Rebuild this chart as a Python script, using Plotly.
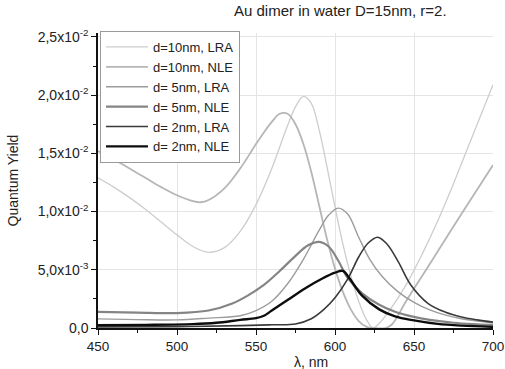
import plotly.graph_objects as go

# ---- data ----
x_10_lra = [450, 460, 470, 480, 490, 500, 510, 520, 530, 540, 550, 560, 570, 575, 580, 585, 590, 595,
            600, 605, 610, 615, 620, 624, 628, 635, 645, 655, 665, 675, 685, 700]
y_10_lra = [1.29e-2, 1.21e-2, 1.12e-2, 1.02e-2, 9.1e-3, 8.0e-3, 7.0e-3, 6.5e-3, 6.9e-3, 8.3e-3, 1.06e-2,
            1.37e-2, 1.74e-2, 1.90e-2, 1.99e-2, 1.93e-2, 1.70e-2, 1.38e-2,
            1.04e-2, 7.2e-3, 4.5e-3, 2.3e-3, 7.0e-4, 0.0, 4.0e-4, 1.6e-3, 3.7e-3, 6.3e-3, 9.2e-3, 1.24e-2,
            1.58e-2, 2.09e-2]

x_10_nle = [450, 460, 470, 480, 490, 500, 510, 515, 520, 530, 540, 550, 555, 560, 565, 570, 575, 580,
            585, 590, 595, 600, 605, 610, 615, 620, 625, 632, 636, 645, 660, 680, 700]
y_10_nle = [1.52e-2, 1.45e-2, 1.37e-2, 1.29e-2, 1.21e-2, 1.14e-2, 1.09e-2, 1.08e-2, 1.10e-2, 1.20e-2,
            1.37e-2, 1.58e-2, 1.68e-2, 1.77e-2, 1.84e-2, 1.84e-2, 1.75e-2, 1.58e-2,
            1.34e-2, 1.05e-2, 7.6e-3, 5.1e-3, 3.1e-3, 1.6e-3, 6.0e-4, 1.0e-4, 0.0, 0.0, 3.0e-4, 2.3e-3,
            5.5e-3, 9.8e-3, 1.40e-2]

x_5_lra = [450, 475, 500, 520, 540, 550, 560, 570, 580, 590, 596, 602, 608, 615, 622, 630, 640, 650,
           660, 670, 680, 690, 700]
y_5_lra = [7.8e-4, 7.2e-4, 7.0e-4, 8.5e-4, 1.05e-3, 1.5e-3, 2.3e-3, 3.8e-3, 5.9e-3, 8.4e-3, 9.7e-3, 1.03e-2,
           9.8e-3, 7.8e-3, 5.9e-3, 4.4e-3, 3.1e-3, 2.2e-3, 1.55e-3, 1.1e-3, 8.0e-4, 6.0e-4, 4.5e-4]

x_5_nle = [450, 475, 500, 520, 535, 545, 555, 565, 575, 583, 590, 596, 602, 608, 617, 628, 638, 650,
           660, 675, 690, 700]
y_5_nle = [1.38e-3, 1.32e-3, 1.28e-3, 1.5e-3, 2.1e-3, 2.8e-3, 3.7e-3, 4.9e-3, 6.2e-3, 7.1e-3, 7.4e-3,
           7.0e-3, 5.8e-3, 4.3e-3, 3.0e-3, 2.0e-3, 1.4e-3, 9.5e-4, 7.0e-4, 4.5e-4, 3.2e-4, 2.6e-4]

x_2_lra = [450, 500, 540, 560, 575, 585, 593, 600, 608, 615, 621, 627, 633, 640, 648, 659, 670, 680, 690, 700]
y_2_lra = [1.0e-4, 1.2e-4, 2.0e-4, 2.8e-4, 3.5e-4, 8.0e-4, 1.6e-3, 2.6e-3, 4.2e-3, 6.1e-3, 7.3e-3, 7.8e-3,
           7.2e-3, 5.7e-3, 3.7e-3, 2.1e-3, 1.35e-3, 9.5e-4, 7.0e-4, 5.0e-4]

x_2_nle = [450, 480, 510, 525, 540, 550, 555, 560, 570, 581, 592, 600, 605, 609, 617, 628, 638, 650,
           665, 680, 700]
y_2_nle = [2.5e-4, 2.7e-4, 3.3e-4, 4.5e-4, 7.0e-4, 8.5e-4, 1.05e-3, 1.5e-3, 2.4e-3, 3.4e-3, 4.25e-3,
           4.75e-3, 4.9e-3, 4.3e-3, 2.8e-3, 1.6e-3, 1.0e-3, 6.5e-4, 3.5e-4, 2.0e-4, 1.0e-4]

series = [
    ("d=10nm, LRA", x_10_lra, y_10_lra, "#cdcdcd", 1.3),
    ("d=10nm, NLE", x_10_nle, y_10_nle, "#b6b6b6", 1.8),
    ("d= 5nm, LRA", x_5_lra, y_5_lra, "#9c9c9c", 1.4),
    ("d= 5nm, NLE", x_5_nle, y_5_nle, "#858585", 2.2),
    ("d= 2nm, LRA", x_2_lra, y_2_lra, "#3a3a3a", 1.6),
    ("d= 2nm, NLE", x_2_nle, y_2_nle, "#0d0d0d", 2.4),
]

x_ticks = [450, 500, 550, 600, 650, 700]
y_ticks = [0, 0.005, 0.010, 0.015, 0.020, 0.025]
y_tick_text = ["0,0", "5,0x10<sup>-3</sup>", "1,0x10<sup>-2</sup>", "1,5x10<sup>-2</sup>",
               "2,0x10<sup>-2</sup>", "2,5x10<sup>-2</sup>"]

FONT = "Liberation Sans, Arial, sans-serif"

fig = go.Figure()
for name, xs, ys, col, w in series:
    fig.add_trace(go.Scatter(x=xs, y=ys, mode="lines", name=name,
                             line=dict(color=col, width=w, shape="spline", smoothing=1.0)))

fig.update_layout(
    width=505, height=369,
    margin=dict(l=98, r=12, t=33, b=41),
    paper_bgcolor="white", plot_bgcolor="white",
    font=dict(family=FONT, size=14, color="#222222"),
    showlegend=True,
    legend=dict(x=0.005, y=1.007, xanchor="left", yanchor="top",
                bgcolor="white", bordercolor="#9a9a9a", borderwidth=1, itemwidth=42,
                font=dict(size=13, color="#222222"), tracegroupgap=0),
    annotations=[
        dict(text="Au dimer in water D=15nm, r=2.", xref="paper", yref="paper",
             x=0.615, y=1.0, xanchor="center", yanchor="middle", yshift=23,
             showarrow=False, font=dict(size=15)),
        dict(text="λ, nm", xref="paper", yref="paper", x=0.54, y=0,
             xanchor="center", yanchor="middle", yshift=-34,
             showarrow=False, font=dict(size=14)),
        dict(text="Quantum Yield", xref="paper", yref="paper", x=0, y=0.5,
             xanchor="center", yanchor="middle", xshift=-86,
             textangle=-90, showarrow=False, font=dict(size=14)),
    ],
)

fig.update_xaxes(range=[450, 700], tickmode="array", tickvals=x_ticks, ticklabeloverflow="allow",
                 automargin=False, tickfont=dict(size=13.5),
                 showline=True, linecolor="#111111", linewidth=1.5,
                 ticks="outside", ticklen=5, tickwidth=1.2, tickcolor="#111111",
                 showgrid=True, gridcolor="#e4e4e4", gridwidth=1, zeroline=False,
                 minor=dict(ticks="outside", ticklen=3, tickcolor="#111111", dtick=25, tick0=450, showgrid=False))
fig.update_yaxes(range=[0, 0.02534], tickmode="array", tickvals=y_ticks, ticktext=y_tick_text,
                 automargin=False,
                 showline=True, linecolor="#111111", linewidth=1.5,
                 ticks="outside", ticklen=5, tickwidth=1.2, tickcolor="#111111",
                 showgrid=True, gridcolor="#e4e4e4", gridwidth=1, zeroline=False,
                 minor=dict(ticks="outside", ticklen=3, tickcolor="#111111", dtick=0.0025, tick0=0, showgrid=False))

fig.write_html("out.html")
